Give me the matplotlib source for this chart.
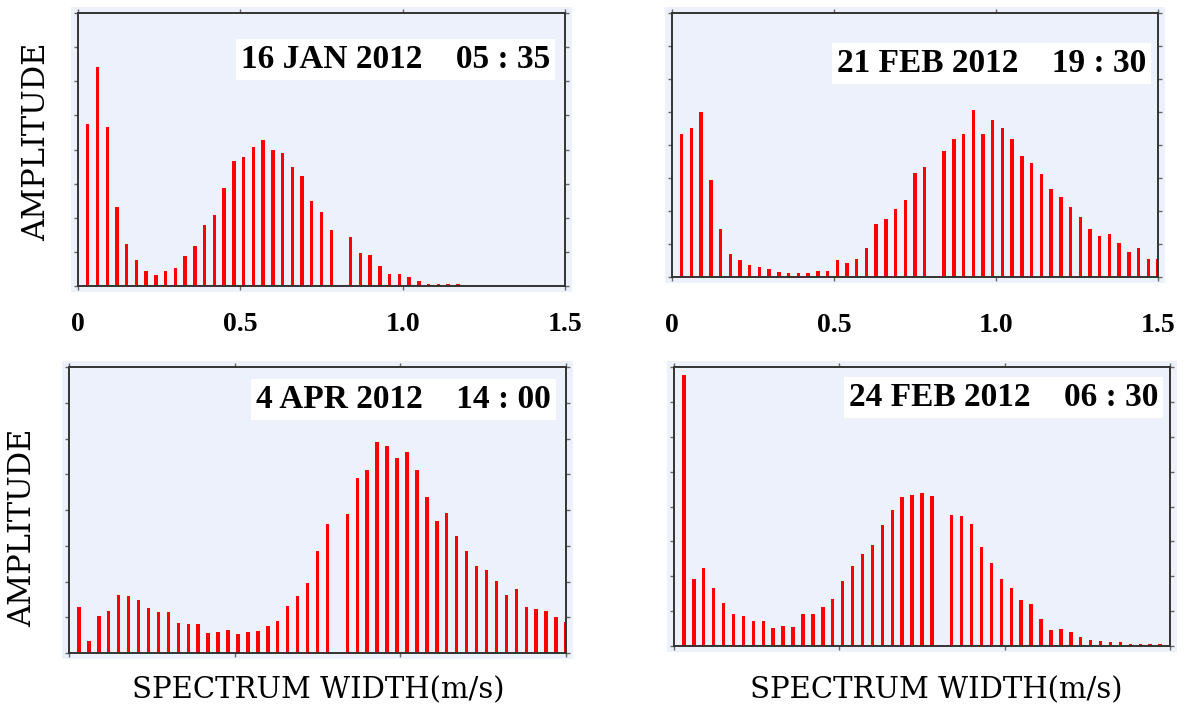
import matplotlib
matplotlib.use('Agg')
import matplotlib.pyplot as plt
from matplotlib.patches import Rectangle
import numpy as np

# spectrum width bins (m/s), 0.03 m/s apart
bins = np.round(np.arange(1, 51) * 0.03, 3)

amp_jan16 = [4.75, 6.42, 4.67, 2.32, 1.23, 0.75, 0.43, 0.33, 0.45, 0.52,
             0.87, 1.18, 1.78, 2.08, 2.86, 3.65, 3.78, 4.07, 4.29, 3.98,
             3.90, 3.48, 3.23, 2.49, 2.18, 1.65, 0.0, 1.44, 0.98, 0.92,
             0.59, 0.36, 0.36, 0.25, 0.14, 0.07, 0.07, 0.07, 0.06, 0.03,
             0.02, 0.02, 0.02, 0.02, 0.02, 0.02, 0.02, 0.02, 0.02, 0.02]

amp_feb21 = [4.32, 4.53, 5.01, 2.94, 1.46, 0.71, 0.51, 0.37, 0.29, 0.24,
             0.16, 0.12, 0.12, 0.12, 0.17, 0.19, 0.51, 0.43, 0.56, 0.87,
             1.62, 1.77, 2.06, 2.33, 3.14, 3.34, 0.0, 3.81, 4.19, 4.32,
             5.06, 4.32, 4.76, 4.51, 4.19, 3.68, 3.44, 3.12, 2.66, 2.41,
             2.13, 1.82, 1.46, 1.24, 1.30, 1.04, 0.75, 0.89, 0.55, 0.56]

amp_apr04 = [1.29, 0.34, 1.04, 1.18, 1.61, 1.59, 1.49, 1.27, 1.15, 1.15,
             0.85, 0.82, 0.82, 0.55, 0.58, 0.65, 0.54, 0.58, 0.62, 0.76,
             0.89, 1.31, 1.60, 1.96, 2.85, 3.60, 0.0, 3.88, 4.90, 5.13,
             5.89, 5.79, 5.45, 5.61, 5.13, 4.35, 3.70, 3.93, 3.27, 2.85,
             2.42, 2.31, 2.02, 1.61, 1.79, 1.29, 1.24, 1.17, 1.00, 0.87]

amp_feb24 = [7.76, 1.93, 2.23, 1.65, 1.22, 0.91, 0.86, 0.71, 0.71, 0.51,
             0.57, 0.54, 0.91, 0.91, 1.12, 1.36, 1.87, 2.28, 2.63, 2.91,
             3.46, 3.89, 4.27, 4.33, 4.40, 4.31, 0.0, 3.76, 3.74, 3.49,
             2.83, 2.37, 1.91, 1.65, 1.31, 1.21, 0.78, 0.45, 0.48, 0.40,
             0.27, 0.17, 0.15, 0.12, 0.11, 0.07, 0.07, 0.06, 0.05, 0.03]

titles = ['16 JAN 2012    05 : 35', '21 FEB 2012    19 : 30',
          '4 APR 2012    14 : 00', '24 FEB 2012    06 : 30']
xticks = [0, 0.5, 1.0, 1.5]
xticklabels = ['0', '0.5', '1.0', '1.5']

W, H = 1187, 709
bg = '#ECF1FB'

# axes boxes in pixels: left, top, right, bottom
boxes = [(78, 13, 565, 286), (672, 13, 1158, 277),
         (69, 367, 566, 653), (674, 367, 1170, 646)]
label_y = [0.83, 0.81, 0.885, 0.89]
label_x = [0.97, 0.975, 0.97, 0.976]

fig = plt.figure(figsize=(W / 100, H / 100), dpi=100)

for i, (amp, title) in enumerate(zip([amp_jan16, amp_feb21, amp_apr04, amp_feb24], titles)):
	l, t, r, b = boxes[i]
	ax = fig.add_axes([l / W, 1 - b / H, (r - l) / W, (b - t) / H])
	# light blue panel slightly larger than the axes
	fig.add_artist(Rectangle(((l - 7) / W, 1 - (b + 6) / H), (r - l + 14) / W, (b - t + 12) / H,
	                         transform=fig.transFigure, facecolor=bg, edgecolor='none', zorder=-1))
	ax.set_facecolor(bg)
	ax.bar(bins, amp, width=0.0105, color='#FF0000', edgecolor='none', linewidth=0)
	ax.set_xlim(0, 1.5)
	ax.set_ylim(0, 8)
	ax.set_xticks(xticks)
	ax.set_yticks(range(9))
	ax.tick_params(direction='out', length=3, width=1, color='#666666',
	               top=True, right=True, labelleft=False)
	if i < 2:
		ax.set_xticklabels(xticklabels, fontfamily='Liberation Serif', fontweight='bold', fontsize=20)
		ax.tick_params(axis='x', pad=16 if i == 0 else 23)
	else:
		ax.tick_params(labelbottom=False)
	for s in ax.spines.values():
		s.set_color('#333333')
		s.set_linewidth(1.4)
	ax.text(label_x[i], label_y[i], title, transform=ax.transAxes, ha='right', va='center',
	        fontfamily='Liberation Serif', fontweight='bold', fontsize=24,
	        bbox=dict(boxstyle='square,pad=0.15', facecolor='white', edgecolor='none'))

fig.text(37 / W, 1 - 142 / H, 'AMPLITUDE', rotation=90, ha='center', va='center',
         fontfamily='DejaVu Serif', fontsize=22)
fig.text(23 / W, 1 - 528 / H, 'AMPLITUDE', rotation=90, ha='center', va='center',
         fontfamily='DejaVu Serif', fontsize=22)
fig.text(318 / W, 1 - 690 / H, 'SPECTRUM WIDTH(m/s)', ha='center', va='center',
         fontfamily='DejaVu Serif', fontsize=21)
fig.text(936 / W, 1 - 690 / H, 'SPECTRUM WIDTH(m/s)', ha='center', va='center',
         fontfamily='DejaVu Serif', fontsize=21)

fig.savefig('out.png', dpi=100, facecolor='white')
